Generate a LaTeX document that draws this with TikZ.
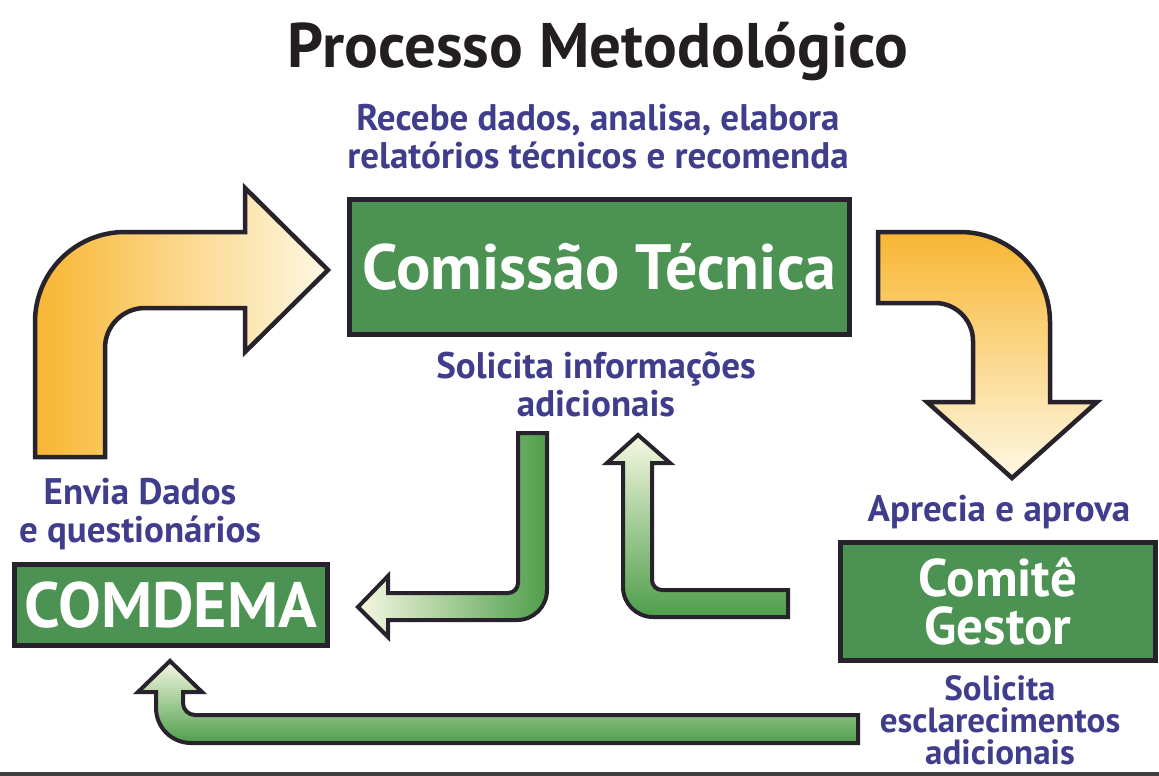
\documentclass[tikz,border=0pt]{standalone}
\usepackage{fontspec}
\setmainfont{PT Sans}
\definecolor{lblue}{RGB}{64,62,140}
\definecolor{boxgreen}{RGB}{76,146,82}
\definecolor{edgec}{RGB}{40,34,44}
\definecolor{yorange}{RGB}{248,182,50}
\definecolor{ymid}{RGB}{252,214,105}
\definecolor{ypale}{RGB}{254,248,228}
\definecolor{agreen}{RGB}{78,158,74}
\definecolor{amid}{RGB}{190,214,100}
\definecolor{apale}{RGB}{246,248,226}
\definecolor{titlec}{RGB}{35,31,32}
\begin{document}
\begin{tikzpicture}[x=1pt,y=-1pt,
  box/.style={draw=edgec, line width=5pt, fill=boxgreen, text=white, inner sep=0pt,
    font=\fontsize{64}{64}\selectfont\bfseries},
  lbl/.style={text=lblue, font=\fontsize{37}{38}\selectfont\bfseries, align=center, inner sep=0pt},
  yarrow/.style={draw=edgec, line width=4.5pt, line join=miter},
  garrow/.style={draw=edgec, line width=4pt, line join=miter}]
\useasboundingbox (0,0) rectangle (1159,776);
\fill[white] (0,0) rectangle (1159,776);

% title and labels (anchor base = baseline of the last line)
\node[anchor=base, text=titlec, inner sep=0pt, font=\fontsize{63}{63}\selectfont\bfseries] (title) at (598,67) {Processo Metodológico};
\node[lbl, anchor=base] (recebe) at (598,168) {Recebe dados, analisa, elabora\\relatórios técnicos e recomenda};
\node[lbl, anchor=base] (solinfo) at (596,416) {Solicita informações\\adicionais};
\node[lbl, anchor=base] (envia) at (140,542) {Envia Dados\\e questionários};
\node[lbl, anchor=base] (aprecia) at (999,521) {Aprecia e aprova};
\node[lbl, font=\fontsize{35}{32}\selectfont\bfseries, anchor=base] (solesc) at (1000,764) {Solicita\\esclarecimentos\\adicionais};

% boxes
\node[box, minimum width=500pt, minimum height=135pt, text height=45pt, text depth=0pt] (comissao) at (599.5,267) {Comissão Técnica};
\node[box, minimum width=313pt, minimum height=81pt, text height=45pt, text depth=0pt] (comdema) at (171,605) {COMDEMA};
\node[box, minimum width=315pt, minimum height=118pt, align=center, font=\fontsize{53}{48}\selectfont\bfseries] (comite) at (998,601.5) {Comitê\\Gestor};

% yellow arrow: COMDEMA -> Comissao
\draw[yarrow, left color=yorange, middle color=ymid, right color=ypale]
  (35,457) -- (35,322) arc[start angle=180, end angle=270, radius=90]
  -- (245,232) -- (245,188) -- (328,270) -- (245,352) -- (245,308)
  -- (145,308) arc[start angle=270, end angle=180, radius=40]
  -- (105,457) -- cycle;

% yellow arrow: Comissao -> Comite
\draw[yarrow, top color=yorange, bottom color=ypale]
  (878,232) -- (960,232) arc[start angle=270, end angle=360, radius=90]
  -- (1050,402) -- (1097,402) -- (1012,478) -- (927,402) -- (973,402)
  -- (973,341) arc[start angle=0, end angle=-90, radius=38]
  -- (878,303) -- cycle;

% green arrow: Comissao -> COMDEMA
\draw[garrow, left color=apale, middle color=amid, right color=agreen]
  (518,433) -- (547,433) -- (547,590) arc[start angle=0, end angle=90, radius=30]
  -- (388,620) -- (388,637) -- (358,607) -- (388,576) -- (388,593)
  -- (508,593) arc[start angle=90, end angle=0, radius=10]
  -- cycle;

% green arrow: Comite -> Comissao
\draw[garrow, top color=apale, bottom color=agreen]
  (788,590) -- (788,617) -- (653,617) arc[start angle=90, end angle=180, radius=30]
  -- (623,463) -- (607,463) -- (638,435) -- (670,463) -- (652,463)
  -- (652,580) arc[start angle=180, end angle=90, radius=10]
  -- cycle;

% green arrow: Comite -> COMDEMA (bottom)
\draw[garrow, top color=apale, bottom color=agreen]
  (858,715) -- (858,743) -- (191,743) arc[start angle=90, end angle=180, radius=35]
  -- (156,692) -- (138,692) -- (170,661) -- (202,692) -- (183,692)
  -- (183,703) arc[start angle=180, end angle=90, radius=12]
  -- cycle;

% bottom rule
\draw[line width=4pt, color=black!75] (0,774) -- (1159,774);
\end{tikzpicture}
\end{document}
